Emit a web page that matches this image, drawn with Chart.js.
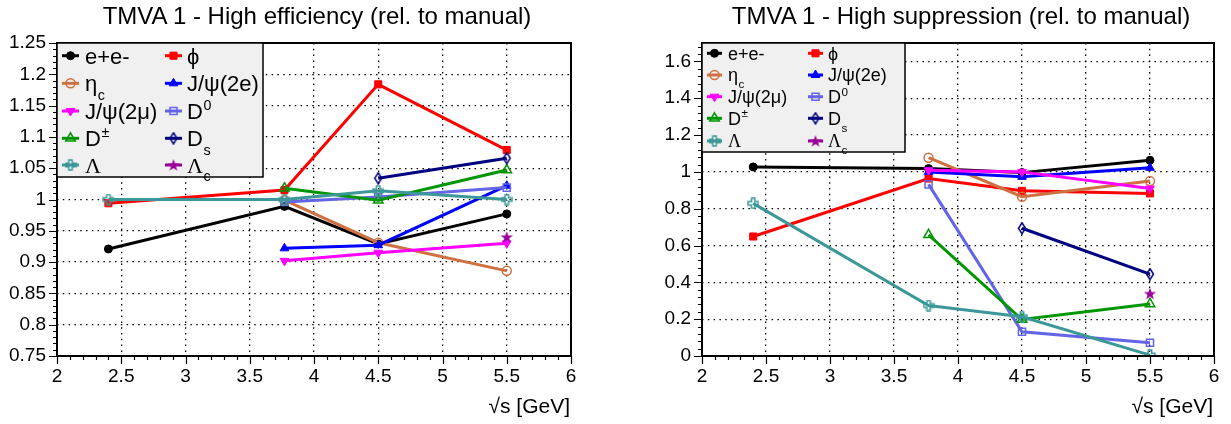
<!DOCTYPE html>
<html><head><meta charset="utf-8">
<script src="https://cdn.jsdelivr.net/npm/chart.js@4.4.1/dist/chart.umd.min.js"></script>
<style>
html,body{margin:0;padding:0;background:#fff;width:1231px;height:424px;overflow:hidden}
#wrap{position:relative;width:1231px;height:424px}
canvas{position:absolute;top:0}
.t{position:absolute;font-family:'Liberation Sans',Arial,sans-serif;color:#000;white-space:nowrap}
.title{font-size:24px;line-height:24px;top:4px;transform:translateX(-50%)}
.axt{font-size:21px;line-height:21px;top:395px;transform:translateX(-100%)}
</style></head><body>
<div id="wrap">
<canvas id="c1" width="615" height="424" style="left:0"></canvas>
<canvas id="c2" width="616" height="424" style="left:615px"></canvas>
<div class="t title" style="left:317px">TMVA 1 - High efficiency (rel. to manual)</div>
<div class="t title" style="left:961px">TMVA 1 - High suppression (rel. to manual)</div>
<div class="t axt" style="left:570px">√s [GeV]</div>
<div class="t axt" style="left:1213px">√s [GeV]</div>
</div>
<script>
// ---- data ----
const energies = [2.4, 3.77, 4.5, 5.5];
const seriesNames = ['e+e-', 'ϕ', 'ηc', 'J/ψ(2e)', 'J/ψ(2μ)', 'D0', 'D±', 'Ds', 'Λ', 'Λc'];

// High efficiency (rel. to manual)
const effEE     = [0.921, 0.989, 0.929, 0.977];
const effPhi    = [0.994, 1.015, 1.184, 1.079];
const effEtac   = [null, 0.999, 0.931, 0.886];
const effJpsiE  = [null, 0.922, 0.927, 1.022];
const effJpsiMu = [null, 0.902, 0.915, 0.930];
const effD0     = [null, 0.996, 1.004, 1.019];
const effDpm    = [null, 1.018, 0.999, 1.047];
const effDs     = [null, null, 1.034, 1.066];
const effLam    = [1.000, 1.000, 1.014, 1.000];
const effLamc   = [null, null, null, 0.940];

// High suppression (rel. to manual)
const supEE     = [1.027, 1.018, 0.996, 1.063];
const supPhi    = [0.649, 0.964, 0.897, 0.883];
const supEtac   = [null, 1.077, 0.865, 0.950];
const supJpsiE  = [null, 1.000, 0.973, 1.022];
const supJpsiMu = [null, 1.009, 1.000, 0.910];
const supD0     = [null, 0.932, 0.132, 0.072];
const supDpm    = [null, 0.658, 0.198, 0.283];
const supDs     = [null, null, 0.694, 0.445];
const supLam    = [0.829, 0.274, 0.213, 0.005];
const supLamc   = [null, null, null, 0.339];

const xTicksMajor = [2, 2.5, 3, 3.5, 4, 4.5, 5, 5.5, 6];
const effYTicks = [0.75, 0.8, 0.85, 0.9, 0.95, 1, 1.05, 1.1, 1.15, 1.2, 1.25];
const supYTicks = [0, 0.2, 0.4, 0.6, 0.8, 1, 1.2, 1.4, 1.6];

// ---- styles ----
const FONT = "'Liberation Sans', Arial, sans-serif";
Chart.defaults.font.family = FONT;

function mk(w, h, fn) {
  const c = document.createElement('canvas');
  c.width = w; c.height = h;
  fn(c.getContext('2d'), w, h);
  return c;
}
function openCross(color) {
  return mk(12, 12, (g) => {
    const c = 6, a = 5, b = 1.7;
    g.strokeStyle = color; g.lineWidth = 1.5;
    g.beginPath();
    g.moveTo(c - b, c - a); g.lineTo(c + b, c - a); g.lineTo(c + b, c - b); g.lineTo(c + a, c - b);
    g.lineTo(c + a, c + b); g.lineTo(c + b, c + b); g.lineTo(c + b, c + a); g.lineTo(c - b, c + a);
    g.lineTo(c - b, c + b); g.lineTo(c - a, c + b); g.lineTo(c - a, c - b); g.lineTo(c - b, c - b);
    g.closePath(); g.stroke();
  });
}
function openDiamond(color) {
  return mk(10, 13, (g) => {
    g.strokeStyle = color; g.lineWidth = 1.5;
    g.beginPath();
    g.moveTo(5, 1); g.lineTo(8.5, 6.5); g.lineTo(5, 12); g.lineTo(1.5, 6.5); g.closePath();
    g.stroke();
  });
}
function filledStar(color) {
  return mk(14, 14, (g) => {
    g.fillStyle = color;
    g.beginPath();
    for (let i = 0; i < 10; i++) {
      const r = i % 2 === 0 ? 6.5 : 2.6;
      const ang = -Math.PI / 2 + i * Math.PI / 5;
      const px = 7 + r * Math.cos(ang), py = 7.5 + r * Math.sin(ang);
      if (i === 0) g.moveTo(px, py); else g.lineTo(px, py);
    }
    g.closePath(); g.fill();
  });
}

const colors = ['#000000', '#ff0000', '#cf7040', '#0000ff', '#ff00ff', '#6464e6', '#009600', '#000080', '#3c9898', '#990099'];
const markerStyles = [
  { pointStyle: 'circle', radius: 4, fill: true },
  { pointStyle: 'rect', radius: 5, fill: true },
  { pointStyle: 'circle', radius: 4.5, fill: false },
  { pointStyle: 'triangle', radius: 5, fill: true },
  { pointStyle: 'triangle', radius: 5, fill: true, rotation: 180 },
  { pointStyle: 'rect', radius: 5, fill: false },
  { pointStyle: 'triangle', radius: 5.5, fill: false },
  { pointStyle: 'diamond', radius: 5, fill: false },
  { pointStyle: 'cross', radius: 5, fill: false },
  { pointStyle: 'star', radius: 6, fill: true }
];
const legendParts = [
  [['e+e-', '']],
  [['ϕ', '']],
  [['η', ''], ['c', 'sub']],
  [['J/ψ(2e)', '']],
  [['J/ψ(2μ)', '']],
  [['D', ''], ['0', 'sup']],
  [['D', ''], ['±', 'sup']],
  [['D', ''], ['s', 'sub']],
  [['Λ', 'serif']],
  [['Λ', 'serif'], ['c', 'sub']]
];

function styleFor(i) {
  const m = markerStyles[i], col = colors[i];
  let ps = m.pointStyle;
  if (ps === 'diamond') ps = openDiamond(col);
  else if (ps === 'cross') ps = openCross(col);
  else if (ps === 'star') ps = filledStar(col);
  return {
    pointStyle: ps,
    pointRadius: m.radius,
    pointRotation: m.rotation || 0,
    pointBackgroundColor: m.fill ? col : 'rgba(0,0,0,0)',
    pointBorderColor: col,
    pointBorderWidth: m.fill ? 1 : 1.5
  };
}

function buildDatasets(seriesList) {
  return seriesList.map((vals, i) => {
    const pts = [];
    vals.forEach((v, k) => { if (v !== null) pts.push({ x: energies[k], y: v }); });
    return Object.assign({
      label: seriesNames[i],
      data: pts,
      borderColor: colors[i],
      borderWidth: 3,
      tension: 0,
      fill: false,
      order: -i
    }, styleFor(i));
  });
}

function fmt(v) { return String(parseFloat(Number(v).toFixed(2))); }

// frame + ROOT-style outside ticks
const framePlugin = {
  id: 'rootFrame',
  afterDraw(chart, args, opt) {
    const ctx = chart.ctx, a = chart.chartArea;
    const xs = chart.scales.x, ys = chart.scales.y;
    ctx.save();
    ctx.strokeStyle = '#000';
    ctx.lineWidth = 1.2;
    ctx.beginPath();
    const nx = Math.round((xs.max - xs.min) / opt.xMinor);
    for (let k = 0; k <= nx; k++) {
      const v = xs.min + k * opt.xMinor;
      const px = Math.round(xs.getPixelForValue(v)) + 0.5;
      const len = k % 5 === 0 ? 8 : 4;
      ctx.moveTo(px, a.bottom); ctx.lineTo(px, a.bottom + len);
    }
    const ny = Math.floor((ys.max - ys.min) / opt.yMinor + 1e-6);
    for (let k = 0; k <= ny; k++) {
      const v = ys.min + k * opt.yMinor;
      const py = Math.round(ys.getPixelForValue(v)) + 0.5;
      const len = k % 5 === 0 ? 8 : 4;
      ctx.moveTo(a.left, py); ctx.lineTo(a.left - len, py);
    }
    ctx.stroke();
    ctx.lineWidth = 2;
    ctx.strokeRect(a.left, a.top, a.right - a.left, a.bottom - a.top);
    ctx.restore();
  }
};

function drawMarker(ctx, i, x, y) {
  const s = styleFor(i);
  if (s.pointStyle instanceof HTMLCanvasElement) {
    ctx.drawImage(s.pointStyle, x - s.pointStyle.width / 2, y - s.pointStyle.height / 2);
    return;
  }
  ctx.save();
  ctx.fillStyle = s.pointBackgroundColor;
  ctx.strokeStyle = s.pointBorderColor;
  ctx.lineWidth = s.pointBorderWidth;
  Chart.helpers.drawPoint(ctx, { pointStyle: s.pointStyle, radius: s.pointRadius, rotation: s.pointRotation, borderWidth: s.pointBorderWidth }, x, y);
  ctx.restore();
}

const legendPlugin = {
  id: 'rootLegend',
  afterDraw(chart, args, o) {
    const ctx = chart.ctx;
    ctx.save();
    ctx.fillStyle = '#f0f0f0';
    ctx.fillRect(o.box[0], o.box[1], o.box[2] - o.box[0], o.box[3] - o.box[1]);
    ctx.strokeStyle = '#000'; ctx.lineWidth = 1.5;
    ctx.strokeRect(o.box[0], o.box[1], o.box[2] - o.box[0], o.box[3] - o.box[1]);
    chart.data.datasets.forEach((ds, i) => {
      const col = i % 2, row = Math.floor(i / 2);
      const cy = o.rows[row];
      const mx = o.mark[col];
      ctx.strokeStyle = colors[i]; ctx.lineWidth = 3;
      ctx.beginPath(); ctx.moveTo(mx - o.seg / 2, cy); ctx.lineTo(mx + o.seg / 2, cy); ctx.stroke();
      drawMarker(ctx, i, mx, cy);
      let tx = o.text[col];
      const fs = o.fs;
      const base = cy + 0.36 * fs;
      ctx.fillStyle = '#000';
      ctx.textBaseline = 'alphabetic';
      ctx.textAlign = 'left';
      legendParts[i].forEach(([txt, kind]) => {
        let size = fs, by = base, fam = FONT;
        if (kind === 'sub') { size = fs * 0.65; by = base + 0.38 * fs; }
        if (kind === 'sup') { size = fs * 0.65; by = base - 0.42 * fs; }
        if (kind === 'serif') { fam = "'Liberation Serif', 'DejaVu Serif', serif"; }
        ctx.font = size + 'px ' + fam;
        ctx.fillText(txt, tx, by);
        tx += ctx.measureText(txt).width + (kind === 'sup' || kind === 'sub' ? 0 : 0.5);
      });
    });
    ctx.restore();
  }
};

function makeChart(id, seriesList, cfg) {
  return new Chart(document.getElementById(id), {
    type: 'line',
    data: { datasets: buildDatasets(seriesList) },
    options: {
      responsive: false,
      animation: false,
      layout: { padding: { left: 0, top: 43, right: cfg.padRight, bottom: 0 } },
      plugins: {
        legend: { display: false },
        tooltip: { enabled: false },
        rootFrame: { xMinor: 0.1, yMinor: cfg.yMinor },
        rootLegend: cfg.legend
      },
      scales: {
        x: {
          type: 'linear', min: 2, max: 6,
          afterBuildTicks: (s) => { s.ticks = xTicksMajor.map(v => ({ value: v })); },
          ticks: { font: { size: 19 }, color: '#000', padding: 9, callback: (v) => fmt(v), maxRotation: 0, autoSkip: false },
          grid: { color: '#000', lineWidth: 1.3, drawTicks: false },
          border: { display: false, dash: [1.5, 4.3] },
          afterFit: (s) => { s.height = 68; }
        },
        y: {
          type: 'linear', min: cfg.yMin, max: cfg.yMax,
          afterBuildTicks: (s) => { s.ticks = cfg.yTicks.map(v => ({ value: v })); },
          ticks: { font: { size: 19 }, color: '#000', padding: 11, callback: (v) => fmt(v), autoSkip: false },
          grid: { color: '#000', lineWidth: 1.3, drawTicks: false },
          border: { display: false, dash: [1.5, 4.3] },
          afterFit: (s) => { s.width = cfg.yWidth; }
        }
      }
    },
    plugins: [framePlugin, legendPlugin]
  });
}

makeChart('c1', [effEE, effPhi, effEtac, effJpsiE, effJpsiMu, effD0, effDpm, effDs, effLam, effLamc], {
  padRight: 44, yWidth: 57, yMin: 0.75, yMax: 1.25, yMinor: 0.01, yTicks: effYTicks,
  legend: { box: [57, 43, 263, 177], rows: [55.7, 83.3, 111, 138.3, 165], mark: [70.5, 173.5], seg: 17, text: [85, 187], fs: 22 }
});
makeChart('c2', [supEE, supPhi, supEtac, supJpsiE, supJpsiMu, supD0, supDpm, supDs, supLam, supLamc], {
  padRight: 17, yWidth: 87, yMin: 0, yMax: 1.7, yMinor: 0.04, yTicks: supYTicks,
  legend: { box: [87, 43, 290, 152], rows: [53.3, 75, 96.7, 118.3, 141], mark: [99.5, 200.5], seg: 15, text: [113, 213], fs: 18 }
});
</script>
</body></html>
